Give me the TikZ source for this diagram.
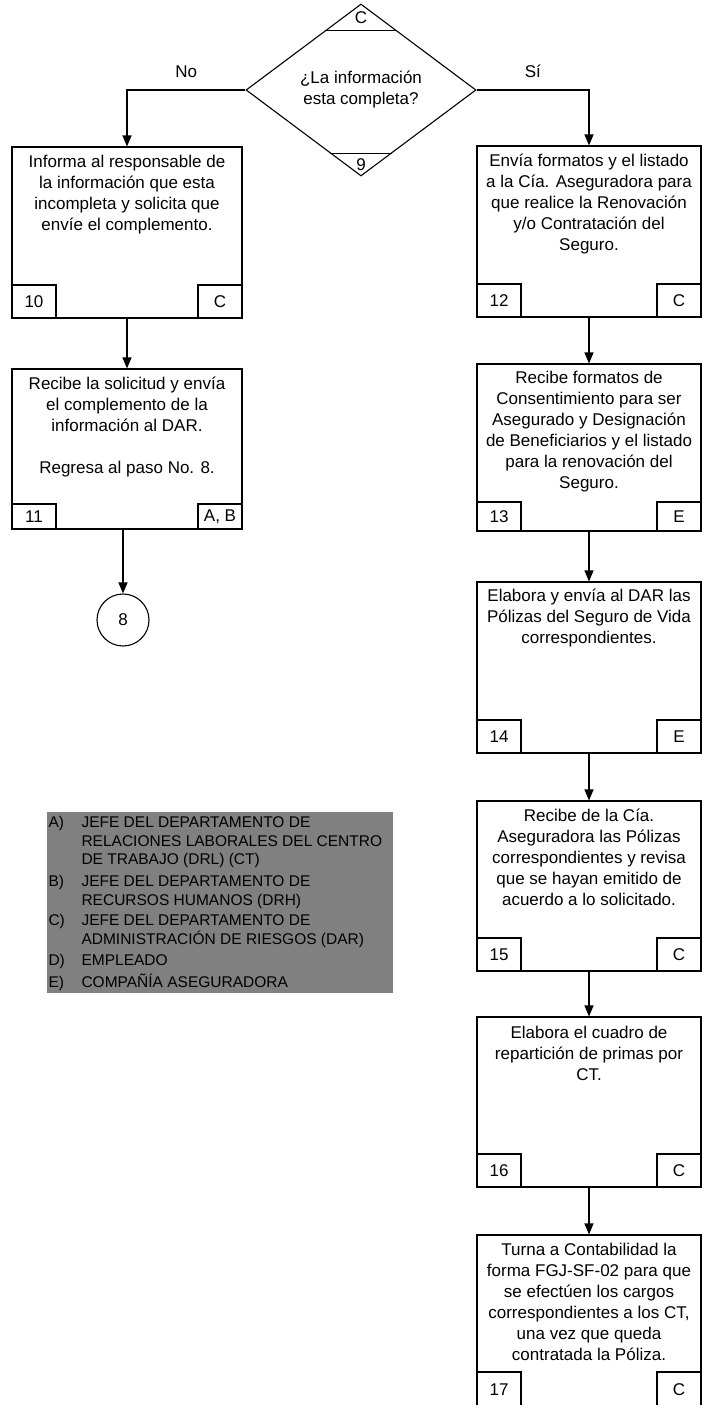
\documentclass[tikz,border=0pt]{standalone}
\usepackage{fontspec}
\setmainfont{Liberation Sans}
\usetikzlibrary{arrows.meta,positioning,shapes.geometric,calc}
\definecolor{legendgray}{HTML}{808080}
\newcommand{\boxfont}{\fontsize{17}{21}\selectfont}
\newcommand{\legfont}{\fontsize{15.5}{18.5}\selectfont}

\begin{document}
\begin{tikzpicture}[x=1pt,y=-1pt,line width=1.1pt,
    decision/.style={draw,diamond,minimum width=230pt,minimum height=172pt,inner sep=0pt,align=center,font=\boxfont},
    leftbox/.style={draw,minimum width=230pt,inner sep=0pt},
    rightbox/.style={draw,minimum width=224pt,inner sep=0pt},
    boxtext/.style={align=center,inner sep=0pt,font=\boxfont},
    tagbox/.style={draw,minimum width=44pt,minimum height=33pt,inner sep=0pt,font=\boxfont},
    flow/.style={-{Triangle[length=11pt,width=9pt]}},
    legendbox/.style={fill=legendgray,minimum width=346pt,minimum height=181pt,inner sep=0pt},
    legitem/.style={align=left,inner sep=0pt,font=\legfont}]
  \useasboundingbox (0,0) rectangle (702,1405);

  % decision
  \node[decision] (dec) at (361,90) {¿La información\\esta completa?};
  \draw[line width=0.9pt] ($(dec.north)!0.314!(dec.west)$) -- ($(dec.north)!0.314!(dec.east)$);
  \draw[line width=0.9pt] ($(dec.south)!0.27!(dec.west)$) -- ($(dec.south)!0.27!(dec.east)$);
  \node[font=\boxfont] (decC) at (361,18) {C};
  \node[font=\boxfont] (dec9) at (361,165) {9};

  % left column
  \node[leftbox,minimum height=171pt] (b10) at (127,232.5) {};
  \node[boxtext,below=8pt of b10.north] (t10) {Informa al responsable de\\la información que esta\\incompleta y solicita que\\envíe el complemento.};
  \node[tagbox,anchor=south west] (n10) at (b10.south west) {10};
  \node[tagbox,anchor=south east] (r10) at (b10.south east) {C};

  \node[leftbox,minimum height=160pt] (b11) at (127,449) {};
  \node[boxtext,below=8pt of b11.north] (t11) {Recibe la solicitud y envía\\el complemento de la\\información al DAR.\\[21pt]Regresa al paso No. 8.};
  \node[tagbox,minimum height=25pt,anchor=south west] (n11) at (b11.south west) {11};
  \node[tagbox,minimum height=25pt,anchor=south east] (r11) at (b11.south east) {A, B};

  \node[draw,circle,minimum size=52pt,inner sep=0pt,font=\boxfont] (c8) at (123,620) {8};

  % right column
  \node[rightbox,minimum height=171pt] (b12) at (589,231.5) {};
  \node[boxtext,below=8pt of b12.north] (t12) {Envía formatos y el listado\\a la Cía. Aseguradora para\\que realice la Renovación\\y/o Contratación del\\Seguro.};
  \node[tagbox,anchor=south west] (n12) at (b12.south west) {12};
  \node[tagbox,anchor=south east] (r12) at (b12.south east) {C};

  \node[rightbox,minimum height=167pt] (b13) at (589,447.5) {};
  \node[boxtext,below=7pt of b13.north] (t13) {Recibe formatos de\\Consentimiento para ser\\Asegurado y Designación\\de Beneficiarios y el listado\\para la renovación del\\Seguro.};
  \node[tagbox,minimum height=29pt,anchor=south west] (n13) at (b13.south west) {13};
  \node[tagbox,minimum height=29pt,anchor=south east] (r13) at (b13.south east) {E};

  \node[rightbox,minimum height=171pt] (b14) at (589,667.5) {};
  \node[boxtext,below=7pt of b14.north] (t14) {Elabora y envía al DAR las\\Pólizas del Seguro de Vida\\correspondientes.};
  \node[tagbox,anchor=south west] (n14) at (b14.south west) {14};
  \node[tagbox,anchor=south east] (r14) at (b14.south east) {E};

  \node[rightbox,minimum height=170pt] (b15) at (589,886) {};
  \node[boxtext,below=8pt of b15.north] (t15) {Recibe de la Cía.\\Aseguradora las Pólizas\\correspondientes y revisa\\que se hayan emitido de\\acuerdo a lo solicitado.};
  \node[tagbox,anchor=south west] (n15) at (b15.south west) {15};
  \node[tagbox,anchor=south east] (r15) at (b15.south east) {C};

  \node[rightbox,minimum height=170pt] (b16) at (589,1102) {};
  \node[boxtext,below=9pt of b16.north] (t16) {Elabora el cuadro de\\repartición de primas por\\CT.};
  \node[tagbox,anchor=south west] (n16) at (b16.south west) {16};
  \node[tagbox,anchor=south east] (r16) at (b16.south east) {C};

  \node[rightbox,minimum height=172pt] (b17) at (589,1321) {};
  \node[boxtext,below=8pt of b17.north] (t17) {Turna a Contabilidad la\\forma FGJ-SF-02 para que\\se efectúen los cargos\\correspondientes a los CT,\\una vez que queda\\contratada la Póliza.};
  \node[tagbox,minimum height=35pt,anchor=south west] (n17) at (b17.south west) {17};
  \node[tagbox,minimum height=35pt,anchor=south east] (r17) at (b17.south east) {C};

  % connectors
  \draw[flow] (dec.west) -| node[pos=0.25,above=8pt,font=\boxfont] (lblno) {No} (b10.north);
  \draw[flow] (dec.east) -| node[pos=0.25,above=8pt,font=\boxfont] (lblsi) {Sí} (b12.north);
  \draw[flow] (b10.south) -- (b11.north);
  \draw[flow] (b11.south -| c8.north) -- (c8.north);
  \draw[flow] (b12.south) -- (b13.north);
  \draw[flow] (b13.south) -- (b14.north);
  \draw[flow] (b14.south) -- (b15.north);
  \draw[flow] (b15.south) -- (b16.north);
  \draw[flow] (b16.south) -- (b17.north);

  % legend
  \node[legendbox] (legend) at (220,902.5) {};
  \node[legitem,anchor=north west] (legAl) at (48,816) {A)};
  \node[legitem,anchor=north west] (legA) at (81,816.5) {JEFE DEL DEPARTAMENTO DE\\RELACIONES LABORALES DEL CENTRO\\DE TRABAJO (DRL) (CT)};
  \node[legitem,anchor=north west] (legBl) at (48,875) {B)};
  \node[legitem,anchor=north west] (legB) at (81,875.5) {JEFE DEL DEPARTAMENTO DE\\RECURSOS HUMANOS (DRH)};
  \node[legitem,anchor=north west] (legCl) at (48,914) {C)};
  \node[legitem,anchor=north west] (legC) at (81,914.5) {JEFE DEL DEPARTAMENTO DE\\ADMINISTRACIÓN DE RIESGOS (DAR)};
  \node[legitem,anchor=base west] (legDl) at (48,965.5) {D)};
  \node[legitem,anchor=base west] (legD) at (81,965.5) {EMPLEADO};
  \node[legitem,anchor=base west] (legEl) at (48,987.5) {E)};
  \node[legitem,anchor=base west] (legE) at (81,987.5) {COMPAÑÍA ASEGURADORA};
\end{tikzpicture}
\end{document}
